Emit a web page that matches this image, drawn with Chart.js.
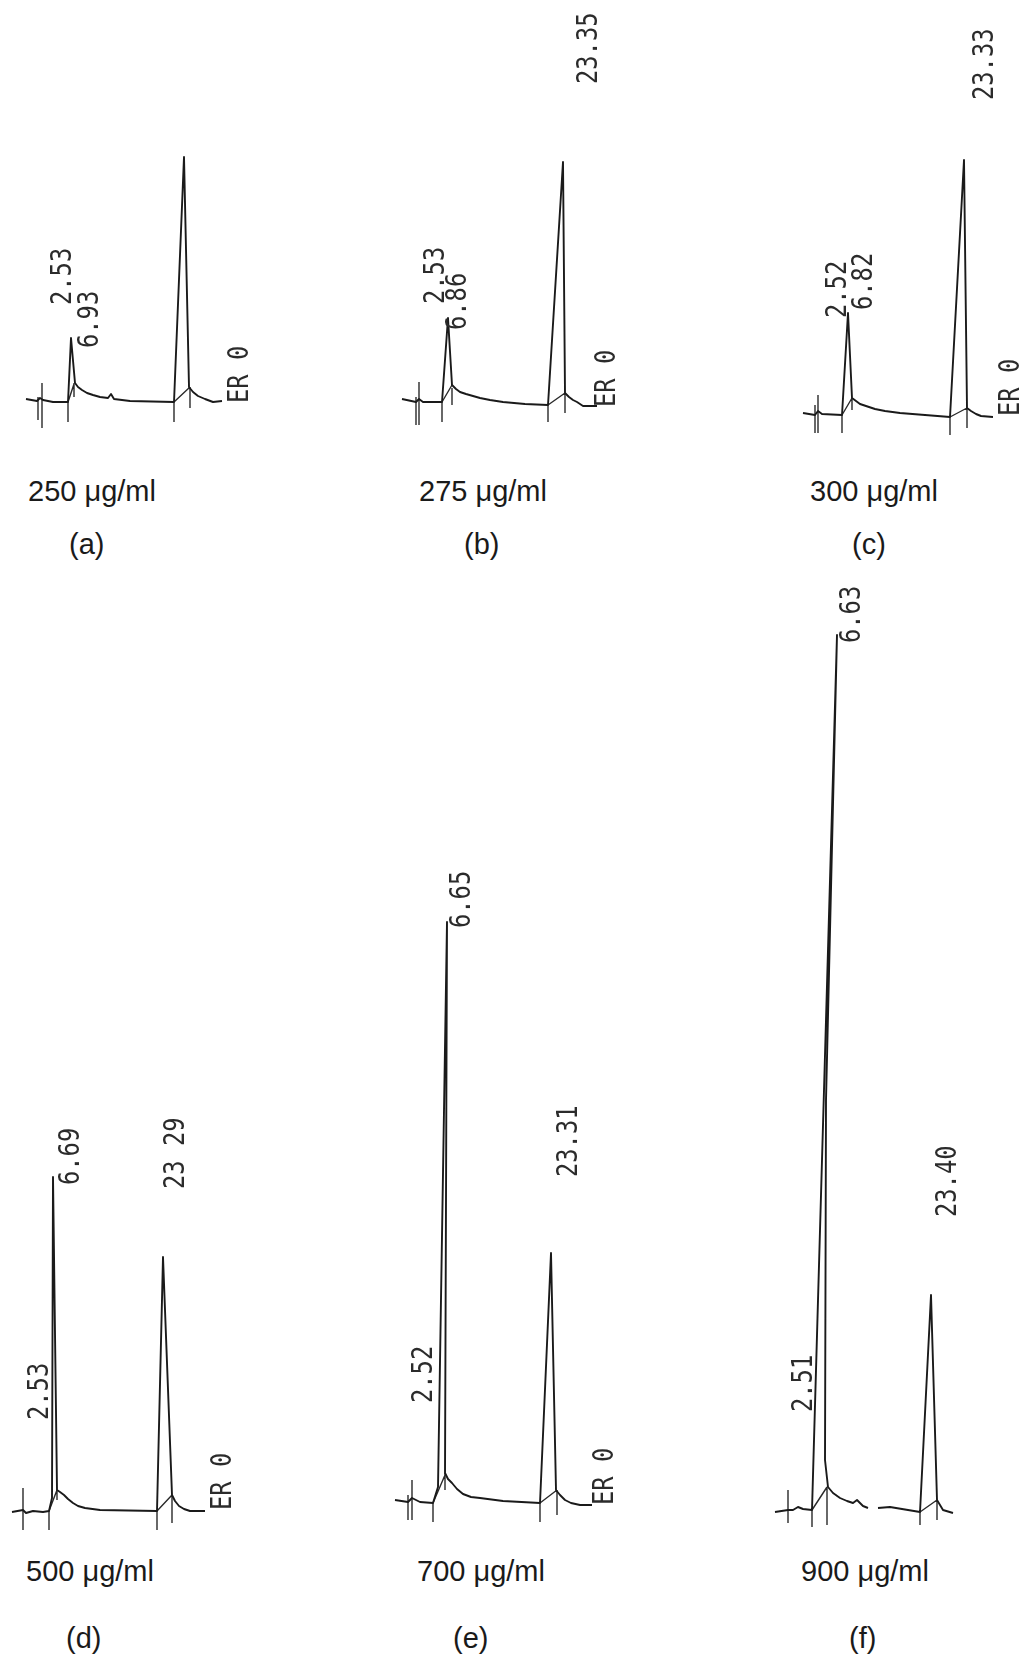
<!DOCTYPE html>
<html>
<head>
<meta charset="utf-8">
<script src="https://cdn.jsdelivr.net/npm/chart.js@4.4.1/dist/chart.umd.min.js"></script>
<style>
  html, body { margin: 0; padding: 0; background: #fff; }
  #page { position: relative; width: 1026px; height: 1654px; overflow: hidden; }
  .panel { position: absolute; }
  .cap { position: absolute; font-family: "Liberation Sans", Arial, sans-serif; font-size: 29px; line-height: 29px; color: #1a1a1a; white-space: nowrap; }
</style>
</head>
<body>
<div id="page"></div>
<script>
// Concentraciones y etiquetas de cada cromatograma
const concentraciones = ['250 μg/ml', '275 μg/ml', '300 μg/ml', '500 μg/ml', '700 μg/ml', '900 μg/ml'];
const letras = ['(a)', '(b)', '(c)', '(d)', '(e)', '(f)'];

// (a) 250 μg/ml  -- posición en el papel vs. respuesta del detector
const aTiempo = [1, 12, 15, 18, 28, 43, 46, 50, 53, 57, 62, 68, 75, 83, 86, 89, 105, 149, 159, 164, 168, 173, 180, 188, 197];
const aSenal  = [2, 0, 3, 1, -1, -1, 63, 18, 14, 11, 8, 6, 4, 3, 7, 2, 0, -1, 244, 14, 9, 5, 2, -1, 0];
const aMarcas = [[17, 18, -27], [13, 4, -19], [43, -1, -21], [49, 18, 4], [149, -1, -21], [165, 14, -7]];
const aCaidas = [[43, -1, 49, 17], [149, -1, 165, 14]];
const aTextos = ['2.53', '6.93', 'ER 0'];

// (b) 275 μg/ml
const bTiempo = [2, 16, 19, 23, 42, 48, 52, 56, 60, 66, 73, 80, 90, 103, 125, 148, 163, 165, 169, 173, 177, 183, 197];
const bSenal  = [3, 0, 3, 0, 0, 84, 17, 13, 10, 8, 6, 4, 2, 0, -2, -3, 240, 9, 5, 2, 0, -4, -4];
const bMarcas = [[19, 20, -23], [16, 5, -23], [42, 0, -20], [52, 14, -3], [148, -3, -20], [165, 9, -11]];
const bCaidas = [[42, 0, 52, 17], [148, -3, 165, 9]];
const bTextos = ['2.53', '6.86', '23.35', 'ER 0'];

// (c) 300 μg/ml
const cTiempo = [3, 15, 18, 22, 42, 48, 52, 56, 60, 66, 75, 85, 100, 125, 150, 164, 167, 171, 176, 181, 193];
const cSenal  = [1, -1, 3, 0, -1, 101, 16, 13, 10, 8, 5, 3, 1, -1, -3, 254, 6, 3, 0, -2, -3];
const cMarcas = [[18, 19, -19], [15, 9, -19], [42, -1, -19], [52, 16, 4], [150, -3, -21], [167, 6, -14]];
const cCaidas = [[42, -1, 52, 16], [150, -3, 167, 6]];
const cTextos = ['2.52', '6.82', '23.33', 'ER 0'];

// (d) 500 μg/ml
const dTiempo = [2, 13, 16, 23, 33, 39, 42, 43, 47, 50, 54, 58, 63, 68, 75, 90, 147, 153, 162, 165, 169, 174, 180, 195];
const dSenal  = [-1, 1, -2, 0, -1, 0, 13, 334, 21, 19, 16, 12, 8, 5, 3, 1, 0, 254, 16, 10, 5, 2, 0, 0];
const dMarcas = [[13, 23, -19], [39, 0, -19], [47, 21, 11], [147, 0, -19], [162, 16, -12]];
const dCaidas = [[39, 0, 47, 21], [147, 0, 162, 16]];
const dTextos = ['2.53', '6.69', '23 29', 'ER 0'];

// (e) 700 μg/ml
const eTiempo = [2, 15, 19, 27, 40, 45, 54, 52, 55, 59, 64, 70, 78, 87, 110, 147, 158, 163, 167, 172, 178, 187, 199];
const eSenal  = [3, 1, 5, 1, 0, 16, 581, 30, 24, 20, 14, 9, 6, 5, 2, 0, 250, 13, 8, 3, 0, -2, -2];
const eMarcas = [[19, 23, -17], [15, 8, -17], [40, 0, -19], [52, 30, 13], [147, 0, -19], [164, 13, -12]];
const eCaidas = [[40, 0, 52, 28], [147, 0, 164, 13]];
const eTextos = ['2.52', '6.65', '23.31', 'ER 0'];

// (f) 900 μg/ml  (null = corte del trazo)
const fTiempo = [2, 15, 20, 25, 30, 39, 64, 53, 52, 55, 60, 67, 74, 80, 84, 90, 95, 100, 105, 117, 147, 158, 164, 167, 170, 180];
const fSenal  = [-1, 1, 1, 4, 2, 1, 876, 411, 51, 24, 18, 13, 10, 8, 11, 5, 3, null, 3, 4, -1, 216, 11, 6, 1, -2];
const fMarcas = [[15, 21, -12], [39, 1, -16], [54, 24, -14], [147, -1, -14], [164, 11, -9]];
const fCaidas = [[39, 1, 54, 24], [147, -1, 164, 11]];
const fTextos = ['2.51', '6.63', '23.40'];

// Ubicación de cada panel en la página y de sus textos
const paneles = [
    { t: aTiempo, s: aSenal, m: aMarcas, c: aCaidas, txt: aTextos, pos: [[46, 96], [73, 53], [223, -2]],
      left: 0, top: 0, w: 300, h: 440, ox: 25, oy: 401, cap: [28, 477], tag: [69, 530] },
    { t: bTiempo, s: bSenal, m: bMarcas, c: bCaidas, txt: bTextos, pos: [[44, 98], [66, 72], [197, 318], [215, -5]],
      left: 380, top: 0, w: 300, h: 440, ox: 400, oy: 402, cap: [419, 477], tag: [464, 530] },
    { t: cTiempo, s: cSenal, m: cMarcas, c: cCaidas, txt: cTextos, pos: [[46, 96], [72, 104], [193, 314], [219, -2]],
      left: 760, top: 0, w: 266, h: 440, ox: 800, oy: 414, cap: [810, 477], tag: [852, 530] },
    { t: dTiempo, s: dSenal, m: dMarcas, c: dCaidas, txt: dTextos, pos: [[38, 91], [69, 326], [174, 322], [221, 1]],
      left: 0, top: 560, w: 300, h: 990, ox: 10, oy: 1511, cap: [26, 1557], tag: [66, 1624] },
    { t: eTiempo, s: eSenal, m: eMarcas, c: eCaidas, txt: eTextos, pos: [[39, 100], [77, 575], [184, 326], [220, -2]],
      left: 370, top: 560, w: 300, h: 990, ox: 393, oy: 1503, cap: [417, 1557], tag: [453, 1624] },
    { t: fTiempo, s: fSenal, m: fMarcas, c: fCaidas, txt: fTextos, pos: [[39, 99], [87, 868], [183, 294]],
      left: 740, top: 560, w: 286, h: 990, ox: 773, oy: 1511, cap: [801, 1557], tag: [849, 1624] }
];

// Textos rotados del integrador (tiempos de retención)
const textoPicos = {
    id: 'textoPicos',
    afterDatasetsDraw(chart, args, opts) {
        const ctx = chart.ctx;
        const sx = chart.scales.x, sy = chart.scales.y;
        ctx.save();
        ctx.fillStyle = '#2b2b2b';
        ctx.font = '25px "DejaVu Sans Mono", monospace';
        ctx.textBaseline = 'alphabetic';
        opts.textos.forEach((t, i) => {
            ctx.save();
            ctx.translate(sx.getPixelForValue(opts.pos[i][0]), sy.getPixelForValue(opts.pos[i][1]));
            ctx.rotate(-Math.PI / 2);
            ctx.scale(0.95, 1.1);
            ctx.fillText(t, 0, 0);
            ctx.restore();
        });
        ctx.restore();
    }
};

const page = document.getElementById('page');

paneles.forEach((p, i) => {
    const div = document.createElement('div');
    div.className = 'panel';
    div.style.left = p.left + 'px';
    div.style.top = p.top + 'px';
    const canvas = document.createElement('canvas');
    canvas.width = p.w;
    canvas.height = p.h;
    canvas.style.width = p.w + 'px';
    canvas.style.height = p.h + 'px';
    div.appendChild(canvas);
    page.appendChild(div);

    const traza = p.t.map((x, k) => ({ x: x, y: p.s[k] }));
    const marcas = [];
    p.m.forEach(m => { marcas.push({ x: m[0], y: m[1] }, { x: m[0], y: m[2] }, { x: m[0], y: null }); });
    p.c.forEach(c => { marcas.push({ x: c[0], y: c[1] }, { x: c[2], y: c[3] }, { x: c[2], y: null }); });

    new Chart(canvas, {
        type: 'line',
        data: {
            datasets: [
                { data: traza, borderColor: '#1a1a1a', borderWidth: 1.9, pointRadius: 0, tension: 0, spanGaps: false, borderJoinStyle: 'round' },
                { data: marcas, borderColor: '#2a2a2a', borderWidth: 1.4, pointRadius: 0, tension: 0, spanGaps: false }
            ]
        },
        options: {
            responsive: false,
            animation: false,
            events: [],
            layout: { padding: 0 },
            scales: {
                x: { type: 'linear', display: false, min: p.left - p.ox, max: p.left + p.w - p.ox },
                y: { type: 'linear', display: false, min: p.oy - (p.top + p.h), max: p.oy - p.top }
            },
            plugins: {
                legend: { display: false },
                tooltip: { enabled: false },
                textoPicos: { textos: p.txt, pos: p.pos }
            }
        },
        plugins: [textoPicos]
    });

    const cap = document.createElement('div');
    cap.className = 'cap';
    cap.style.left = p.cap[0] + 'px';
    cap.style.top = p.cap[1] + 'px';
    cap.textContent = concentraciones[i];
    page.appendChild(cap);

    const tag = document.createElement('div');
    tag.className = 'cap';
    tag.style.left = p.tag[0] + 'px';
    tag.style.top = p.tag[1] + 'px';
    tag.textContent = letras[i];
    page.appendChild(tag);
});
</script>
</body>
</html>
